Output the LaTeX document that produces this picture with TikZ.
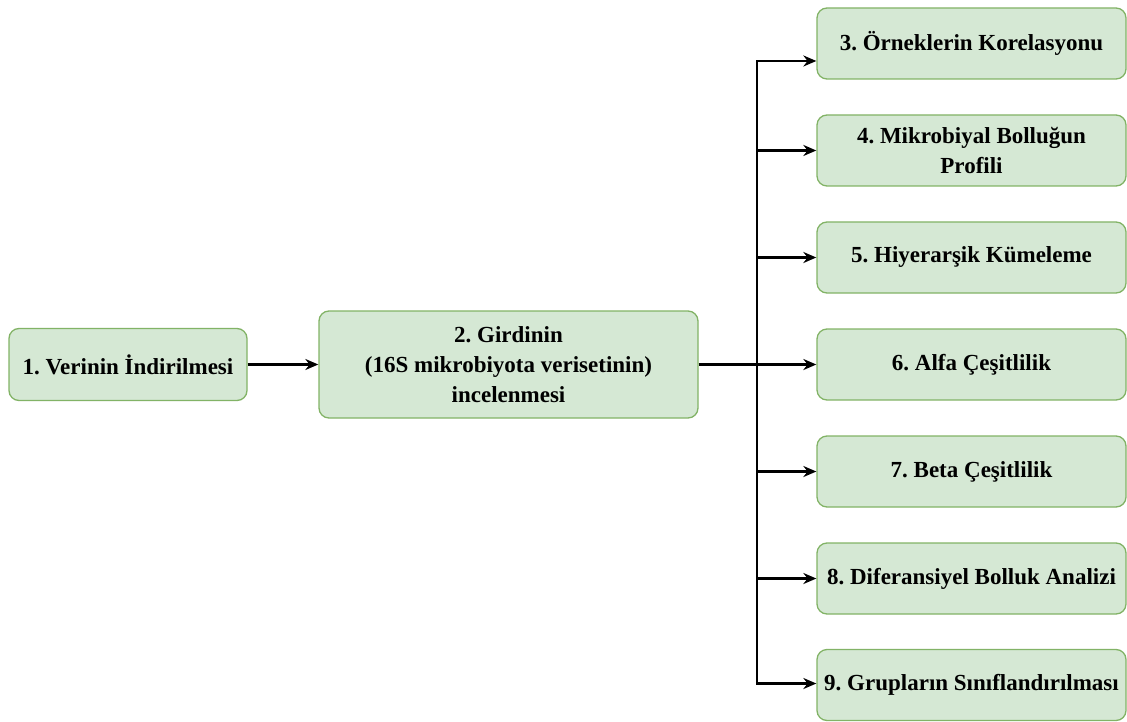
\documentclass[tikz,border=0pt]{standalone}
\usepackage{fontspec}
\setmainfont{Liberation Serif}
\usetikzlibrary{arrows.meta,positioning}
\definecolor{boxfill}{HTML}{D5E8D4}
\definecolor{boxline}{HTML}{82B366}
\frenchspacing

\begin{document}
\begin{tikzpicture}[x=1pt,y=-1pt,
  stepbox/.style={draw=boxline, fill=boxfill, line width=1.3pt, rounded corners=10pt,
    align=center, inner sep=0pt, font=\fontsize{23}{30}\selectfont\bfseries},
  link/.style={-{Stealth[length=13pt,width=11pt]}, line width=2.4pt}]
\useasboundingbox (0,0) rectangle (1127,722);
\node[stepbox, minimum width=238pt, minimum height=72pt] (dl) at (128,364.5) {1. Verinin İndirilmesi};
\node[stepbox, minimum width=379pt, minimum height=107pt] (inspect) at (508.5,364.5)
  {2. Girdinin\\(16S mikrobiyota verisetinin)\\incelenmesi};
\draw[link] (dl) -- (inspect);
\coordinate (split) at (757,364.5);
\draw[line width=2.4pt] (inspect.east) -- (split);
\foreach \n/\y/\dy/\t in {3/43.5/-17.5/{3. Örneklerin Korelasyonu},
    4/150.5/0/{4. Mikrobiyal Bolluğun\\Profili},
    5/257.5/0/{5. Hiyerarşik Kümeleme},
    6/364.5/0/{6. Alfa Çeşitlilik},
    7/471.5/0/{7. Beta Çeşitlilik},
    8/578.5/0/{8. Diferansiyel Bolluk Analizi},
    9/685/1.5/{9. Grupların Sınıflandırılması}} {
  \node[stepbox, minimum width=309pt, minimum height=71pt] (s\n) at (971.5,\y) {\t};
  \draw[link] (split) |- ([yshift=\dy pt]s\n.west);
}
\end{tikzpicture}
\end{document}
